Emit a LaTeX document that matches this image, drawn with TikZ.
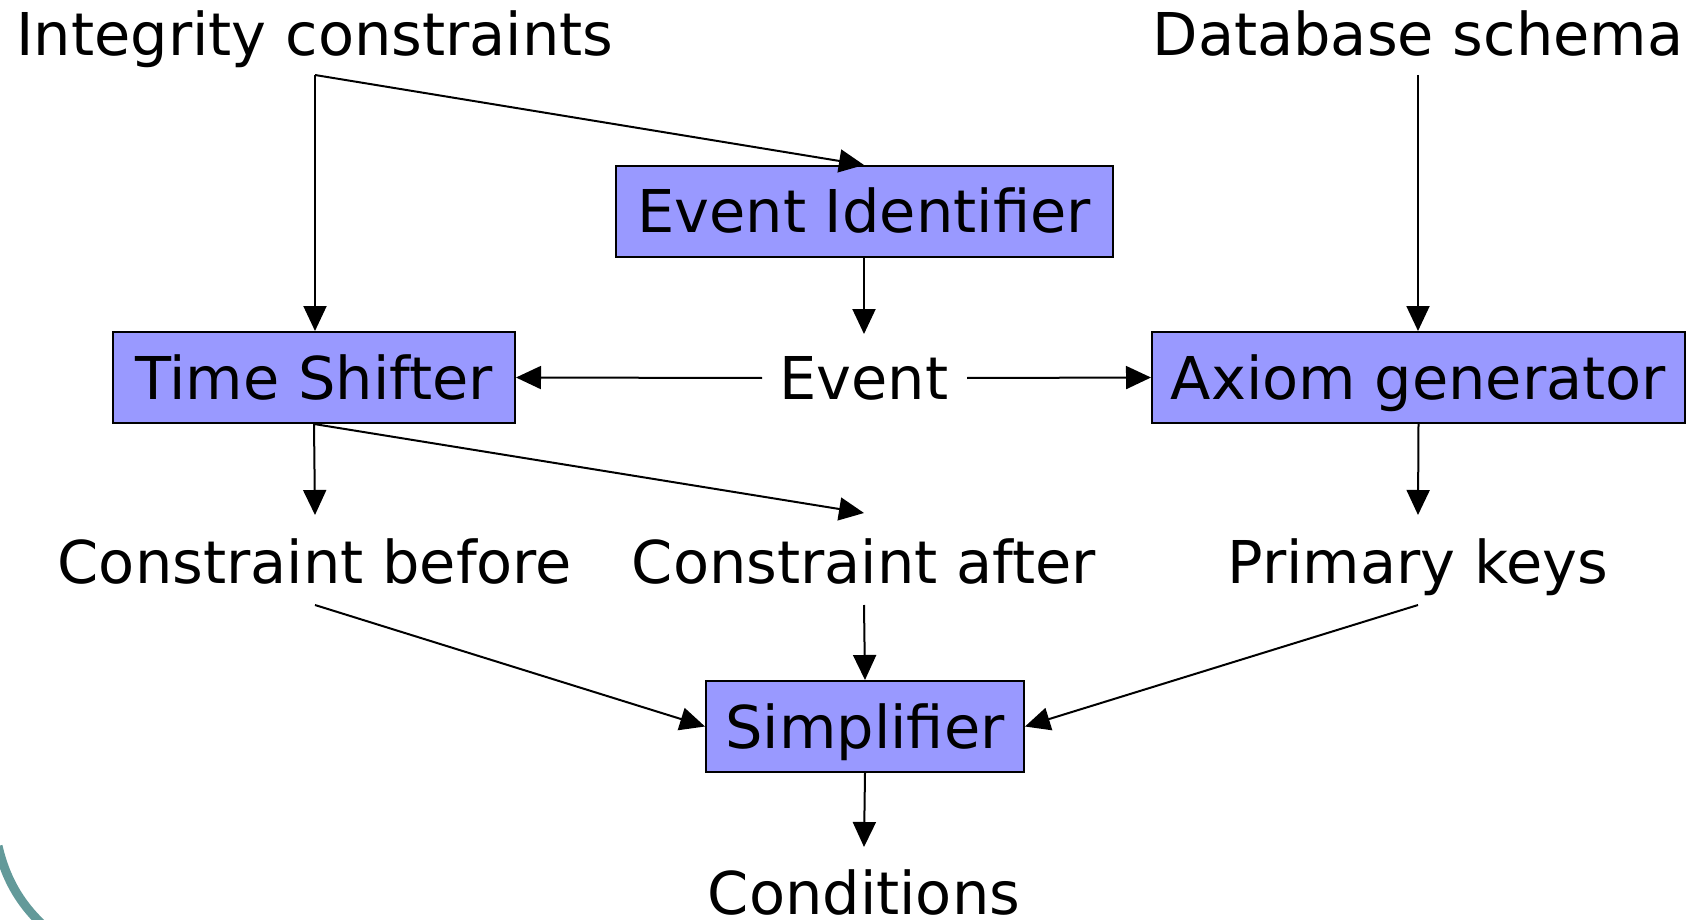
\documentclass[tikz,border=0pt]{standalone}
\usepackage{fontspec}
\setmainfont{DejaVu Sans}
\usetikzlibrary{arrows.meta}
\definecolor{boxblue}{HTML}{9999FF}
\definecolor{tealc}{HTML}{639A9A}
\begin{document}
\begin{tikzpicture}[x=1pt,y=-1pt,
  every node/.style={font=\fontsize{59}{70}\selectfont, text height=43pt, text depth=0pt},
  proc/.style={draw=black, line width=2pt, fill=boxblue, inner sep=0pt, minimum height=91pt},
  lbl/.style={inner sep=0pt},
  arr/.style={line width=2pt, -{Triangle[length=25pt,width=23pt]}}]
\useasboundingbox (0,0) rectangle (1690,920);
\draw[line width=9pt, tealc] (-2,846) .. controls (5,876) and (18,902) .. (44,926);
% texts
\node[lbl] (ic) at (315,34.5) {Integrity constraints};
\node[lbl] (ds) at (1418,34.5) {Database schema};
\node[lbl] (ev) at (864,378) {Event};
\node[lbl] (cb) at (315,562) {Constraint before};
\node[lbl] (ca) at (864,562) {Constraint after};
\node[lbl] (pk) at (1418,562) {Primary keys};
\node[lbl] (co) at (864,893) {Conditions};
% boxes
\node[proc, minimum width=497pt] (ei) at (864,211.5) {Event Identifier};
\node[proc, minimum width=402pt] (ts) at (314,377.5) {Time Shifter};
\node[proc, minimum width=533pt] (ag) at (1418.5,377.5) {Axiom generator};
\node[proc, minimum width=318pt] (simp) at (865,726.5) {Simplifier};
% anchor points
\coordinate (ic-o) at (315,75);
\coordinate (ds-o) at (1418,75);
\coordinate (ev-i) at (864,334);
\coordinate (ev-l) at (762,378);
\coordinate (ev-r) at (967,378);
\coordinate (cb-i) at (315,515);
\coordinate (cb-o) at (315,605);
\coordinate (ca-i) at (864,513);
\coordinate (ca-o) at (864,605);
\coordinate (pk-i) at (1418,515);
\coordinate (pk-o) at (1418,605);
\coordinate (co-i) at (864,847);
% connectors
\draw[arr] (ic-o) -- (ts.north -| ic-o);
\draw[arr] (ic-o) -- (ei.north);
\draw[arr] (ds-o) -- (ag.north -| ds-o);
\draw[arr] (ei.south) -- (ev-i);
\draw[arr] (ev-l) -- (ts.east);
\draw[arr] (ev-r) -- (ag.west);
\draw[arr] (ts.south) -- (cb-i);
\draw[arr] (ts.south) -- (ca-i);
\draw[arr] (ag.south) -- (pk-i);
\draw[arr] (cb-o) -- (simp.west);
\draw[arr] (ca-o) -- (simp.north);
\draw[arr] (pk-o) -- (simp.east);
\draw[arr] (simp.south) -- (co-i);
\end{tikzpicture}
\end{document}
